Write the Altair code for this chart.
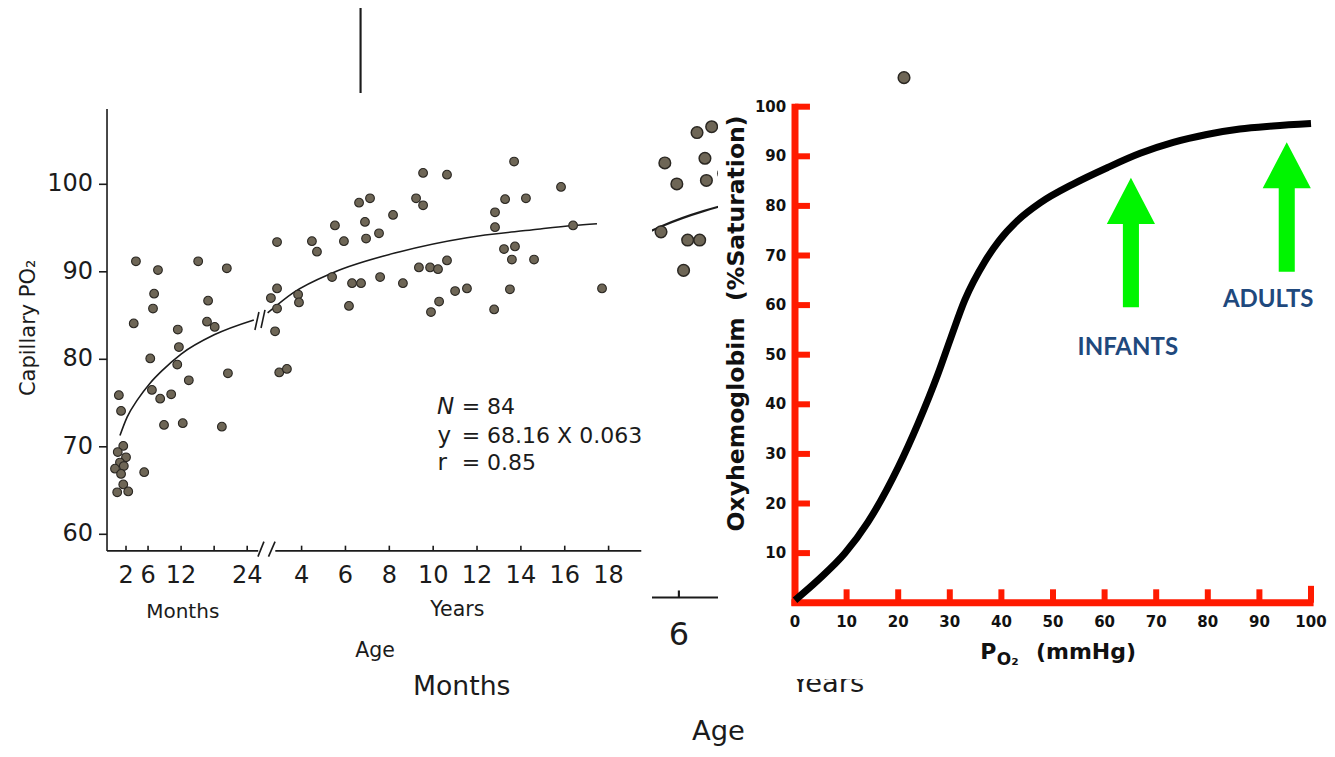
import altair as alt
import pandas as pd

# ------------------------------------------------------------------
# Left chart: capillary PO2 against age
# ------------------------------------------------------------------
infant_age_months = [3.8, 7.8, 7.1, 6.9, 3.4, 15.1, 20.3, 16.9, 16.7, 18.1, 11.4, 11.6, 6.4, 11.3,
                     13.4, 20.5, 0.7, 1.1, 6.7, 8.2, 10.2, 8.9, 12.3, 19.4, 5.3, 1.5, 0.5, 2.0, 0.9,
                     1.6, 0.0, 1.1, 1.5, 0.4, 2.4]
infant_po2 = [91.2, 90.2, 87.5, 85.8, 84.1, 91.2, 90.4, 86.7, 84.3, 83.7, 83.4, 81.4, 80.1, 79.4,
              77.6, 78.4, 75.9, 74.1, 76.5, 75.5, 76.0, 72.5, 72.7, 72.3, 67.1, 70.1, 69.4, 68.8, 68.2,
              67.8, 67.5, 66.9, 65.7, 64.8, 64.9]

child_age_years = [2.88, 2.88, 2.60, 2.88, 2.79, 2.98, 3.33, 4.47, 4.70, 3.84, 3.88, 9.54, 10.63,
                   13.69, 15.83, 6.62, 7.12, 9.22, 9.54, 13.28, 14.23, 12.82, 12.82, 16.38, 5.52, 6.89,
                   8.17, 5.93, 6.94, 7.53, 13.23, 13.73, 13.59, 14.60, 10.63, 9.35, 9.86, 10.22, 5.39,
                   7.58, 6.30, 6.71, 8.62, 11.00, 11.54, 13.50, 17.70, 6.16, 10.27, 9.90, 12.78]
child_po2 = [93.4, 88.1, 87.0, 85.8, 83.2, 78.5, 78.9, 93.5, 92.3, 87.4, 86.5, 101.3, 101.1, 102.6,
             99.7, 97.9, 98.4, 98.4, 97.6, 98.3, 98.4, 96.8, 95.1, 95.3, 95.3, 95.7, 96.5, 93.5, 93.8,
             94.4, 92.6, 92.9, 91.4, 91.4, 91.3, 90.5, 90.5, 90.3, 89.4, 89.4, 88.7, 88.7, 88.7, 87.8,
             88.1, 88.0, 88.1, 86.1, 86.6, 85.4, 85.7]

fit_months_age = [0.9, 2.2, 4.0, 6.4, 8.7, 12.0, 18.0, 25.2]
fit_months_po2 = [71.3, 73.4, 75.3, 77.3, 78.8, 80.6, 82.8, 84.5]
fit_years_age = [2.45, 3.61, 5.43, 8.49, 11.54, 14.55, 16.38, 17.47]
fit_years_po2 = [85.3, 87.6, 89.9, 92.3, 93.9, 94.8, 95.3, 95.5]

month_ticks = [2, 6, 12, 18, 24]
month_tick_labels = ["2", "6", "12", "", "24"]
year_ticks = [4, 6, 8, 10, 12, 14, 16, 18]
year_tick_labels = ["4", "6", "8", "10", "12", "14", "16", "18"]
po2_ticks = [60, 70, 80, 90, 100]
po2_tick_labels = ["60", "70", "80", "90", "100"]

stat_keys = ["N", "y", "r"]
stat_values = ["= 84", "= 68.16 X 0.063", "= 0.85"]

# ------------------------------------------------------------------
# Right chart: oxyhaemoglobin dissociation curve
# ------------------------------------------------------------------
po2_mmhg = [0, 4.5, 9.7, 14.1, 20.0, 23.8, 27.7, 30.2, 32.9, 36.8, 39.5, 43.2, 47.5, 53.9, 60.5,
            66.9, 73.3, 79.8, 86.2, 92.6, 100]
saturation = [0.5, 4.6, 10.0, 16.2, 27.3, 36.0, 46.1, 53.4, 61.0, 68.8, 72.9, 77.1, 80.6, 84.4, 87.7,
              90.6, 92.8, 94.4, 95.5, 96.1, 96.6]
sat_ticks = [10, 20, 30, 40, 50, 60, 70, 80, 90, 100]
sat_tick_labels = ["10", "20", "30", "40", "50", "60", "70", "80", "90", "100"]
mmhg_ticks = [10, 20, 30, 40, 50, 60, 70, 80, 90, 100]
mmhg_labels_at = [0, 10, 20, 30, 40, 50, 60, 70, 80, 90, 100]
mmhg_tick_labels = ["0", "10", "20", "30", "40", "50", "60", "70", "80", "90", "100"]
arrow_names = ["INFANTS", "ADULTS"]
arrow_po2 = [65.1, 95.3]
arrow_sat = [72.6, 79.8]

# ------------------------------------------------------------------
# Layout (page pixels) and styles
# ------------------------------------------------------------------
W, H, OFF = 1319, 741, 8
MONTH_PX = (0, 115.0, 24, 247.2)
YEAR_PX = (4, 301.6, 18, 608.6)
PO2_PX = (60, 534.3, 100, 184.3)
ZOOM, ZX, ZY = 1.335, 217.7, -138.0          # enlarged copy showing behind the panels
BIG_SHOWN_YEAR_LABELS = [6]                 # the only enlarged tick label left uncovered
SATX_PX = (0, 795.0, 100, 1311.0)
SATY_PX = (0, 602.7, 100, 106.7)

AX_M, AX_LO, AX_HI = -1.45, 58.1, 108.6     # left axes extents (data units)
BRK_M, BRK_Y, AX_Y_END = 26.0, 2.8, 19.49
TICK_P, TICK_M = 0.6, 1.45
LBL_P, LBL_M = 55.2, -4.0

INK = "#1b1b1b"
FILL = "#6e6656"
EDGE = "#2a2722"
RED = "#ff1a00"
GREEN = "#00f500"
BLUE = "#1f497d"
FONT_L = "DejaVu Sans"
FONT_R = "DejaVu Sans"
ARROW = "M0,-1L0.372,-0.287L0.124,-0.287L0.124,1L-0.124,1L-0.124,-0.287L-0.372,-0.287Z"


def dom_x(a):
    v_a, p_a, v_b, p_b = a
    ca, cb = p_a - OFF, p_b - OFF
    k = (cb - ca) / (v_b - v_a)
    d0 = v_a - ca / k
    return [d0, d0 + W / k]


def dom_y(a):
    v_a, p_a, v_b, p_b = a
    ca, cb = p_a - OFF, p_b - OFF
    k = (ca - cb) / (v_b - v_a)
    d0 = v_a - (H - ca) / k
    return [d0, d0 + H / k]


def big_x(a):
    return (a[0], ZOOM * a[1] + ZX, a[2], ZOOM * a[3] + ZX)


def big_y(a):
    return (a[0], ZOOM * a[1] + ZY, a[2], ZOOM * a[3] + ZY)


def sc(d):
    return alt.Scale(domain=d, nice=False, zero=False)


def ch(d):
    return alt.Chart(pd.DataFrame(d))


def enc(xd, yd, x2=False, y2=False, text=None):
    e = dict(x=alt.X("x:Q", scale=sc(xd), axis=None), y=alt.Y("y:Q", scale=sc(yd), axis=None))
    if x2:
        e["x2"] = alt.X2("x2:Q")
    if y2:
        e["y2"] = alt.Y2("y2:Q")
    if text:
        e["text"] = alt.Text(f"{text}:N")
    return e


def age_panel(ms, ys, ps, f, title_dy, age_dy, full):
    L = []
    lw = 1.6 * f
    # axis lines
    L.append(ch({"x": [AX_M], "y": [AX_LO], "y2": [AX_HI]}).mark_rule(color=INK, strokeWidth=lw)
             .encode(**enc(ms, ps, y2=True)))
    L.append(ch({"x": [AX_M], "x2": [BRK_M], "y": [AX_LO]}).mark_rule(color=INK, strokeWidth=lw)
             .encode(**enc(ms, ps, x2=True)))
    L.append(ch({"x": [BRK_Y], "x2": [AX_Y_END], "y": [AX_LO]}).mark_rule(color=INK, strokeWidth=lw)
             .encode(**enc(ys, ps, x2=True)))
    # axis / curve breaks
    L.append(ch({"x": [25.95, 25.4], "x2": [27.04, 26.13], "y": [57.45, 83.35], "y2": [59.16, 85.41]})
             .mark_rule(color=INK, strokeWidth=lw).encode(**enc(ms, ps, x2=True, y2=True)))
    L.append(ch({"x": [2.49, 2.15], "x2": [2.79, 2.33], "y": [57.45, 83.58], "y2": [59.16, 85.64]})
             .mark_rule(color=INK, strokeWidth=lw).encode(**enc(ys, ps, x2=True, y2=True)))
    # ticks
    L.append(ch({"x": month_ticks, "y": [AX_LO] * len(month_ticks), "y2": [AX_LO + TICK_P] * len(month_ticks)})
             .mark_rule(color=INK, strokeWidth=lw).encode(**enc(ms, ps, y2=True)))
    L.append(ch({"x": year_ticks, "y": [AX_LO] * len(year_ticks), "y2": [AX_LO + TICK_P] * len(year_ticks)})
             .mark_rule(color=INK, strokeWidth=lw).encode(**enc(ys, ps, y2=True)))
    L.append(ch({"y": po2_ticks, "x": [AX_M - TICK_M] * len(po2_ticks), "x2": [AX_M] * len(po2_ticks)})
             .mark_rule(color=INK, strokeWidth=lw).encode(**enc(ms, ps, x2=True)))
    # tick labels
    tl = dict(font=FONT_L, fontSize=24 * f, color=INK, baseline="middle")
    if full:
        yt, ytl = year_ticks, year_tick_labels
    else:
        keep = [i for i, v in enumerate(year_ticks) if v in BIG_SHOWN_YEAR_LABELS]
        yt, ytl = [year_ticks[i] for i in keep], [year_tick_labels[i] for i in keep]
    L.append(ch({"x": yt, "y": [LBL_P] * len(yt), "t": ytl})
             .mark_text(dy=4 * (f - 1) / (ZOOM - 1), **tl).encode(**enc(ys, ps, text="t")))
    if full:
        L.append(ch({"x": month_ticks, "y": [LBL_P] * len(month_ticks), "t": month_tick_labels})
                 .mark_text(**tl).encode(**enc(ms, ps, text="t")))
        L.append(ch({"x": [LBL_M] * len(po2_ticks), "y": po2_ticks, "t": po2_tick_labels})
                 .mark_text(align="right", **tl).encode(**enc(ms, ps, text="t")))
    # titles
    tt = dict(font=FONT_L, color=INK, baseline="middle")
    L.append(ch({"x": [12.3], "y": [51.1], "t": ["Months"]}).mark_text(fontSize=20 * f, dy=title_dy, **tt)
             .encode(**enc(ms, ps, text="t")))
    L.append(ch({"x": [11.1], "y": [51.35], "t": ["Years"]}).mark_text(fontSize=20.5 * f, dy=title_dy, **tt)
             .encode(**enc(ys, ps, text="t")))
    L.append(ch({"x": [7.35], "y": [46.7], "t": ["Age"]}).mark_text(fontSize=20.5 * f, dy=age_dy, **tt)
             .encode(**enc(ys, ps, text="t")))
    if full:
        L.append(ch({"x": [-15.6], "y": [83.6], "t": ["Capillary PO₂"]})
                 .mark_text(fontSize=21 * f, angle=270, **tt).encode(**enc(ms, ps, text="t")))
        # statistics
        L.append(ch({"x": [10.17], "y": [74.55], "t": [stat_keys[0]]})
                 .mark_text(font=FONT_L, fontSize=23 * f, fontStyle="italic", color=INK, align="left",
                            baseline="middle").encode(**enc(ys, ps, text="t")))
        L.append(ch({"x": [10.2, 10.2], "y": [71.23, 68.15], "t": stat_keys[1:]})
                 .mark_text(font=FONT_L, fontSize=23 * f, color=INK, align="left", baseline="middle")
                 .encode(**enc(ys, ps, text="t")))
        L.append(ch({"x": [11.3] * 3, "y": [74.55, 71.23, 68.15], "t": stat_values})
                 .mark_text(font=FONT_L, fontSize=22 * f, color=INK, align="left", baseline="middle")
                 .encode(**enc(ys, ps, text="t")))
    # fitted curve
    L.append(ch({"x": fit_months_age, "y": fit_months_po2})
             .mark_line(color=INK, strokeWidth=lw, interpolate="monotone").encode(**enc(ms, ps)))
    L.append(ch({"x": fit_years_age, "y": fit_years_po2})
             .mark_line(color=INK, strokeWidth=lw, interpolate="monotone").encode(**enc(ys, ps)))
    # points
    pt = dict(size=76 * f * f, color=FILL, stroke=EDGE, strokeWidth=1.1 * f, opacity=1)
    L.append(ch({"x": infant_age_months, "y": infant_po2}).mark_circle(**pt).encode(**enc(ms, ps)))
    L.append(ch({"x": child_age_years, "y": child_po2}).mark_circle(**pt).encode(**enc(ys, ps)))
    return L


def right_panel():
    xs, ys = dom_x(SATX_PX), dom_y(SATY_PX)
    L = []
    n = len(sat_ticks)
    L.append(ch({"y": sat_ticks, "x": [0] * n, "x2": [2.9] * n}).mark_rule(color=RED, strokeWidth=6)
             .encode(**enc(xs, ys, x2=True)))
    m = len(mmhg_ticks)
    L.append(ch({"x": mmhg_ticks, "y": [0] * m, "y2": [2.7] * (m - 1) + [3.4]})
             .mark_rule(color=RED, strokeWidth=6).encode(**enc(xs, ys, y2=True)))
    L.append(ch({"x": [0], "y": [-0.6], "y2": [100.6]}).mark_rule(color=RED, strokeWidth=7)
             .encode(**enc(xs, ys, y2=True)))
    L.append(ch({"x": [-0.7], "x2": [100.5], "y": [0]}).mark_rule(color=RED, strokeWidth=7)
             .encode(**enc(xs, ys, x2=True)))
    tl = dict(font=FONT_R, fontSize=15, fontWeight="bold", color="#111", baseline="middle")
    L.append(ch({"x": [-1.7] * n, "y": sat_ticks, "t": sat_tick_labels}).mark_text(align="right", **tl)
             .encode(**enc(xs, ys, text="t")))
    L.append(ch({"x": mmhg_labels_at, "y": [-3.9] * len(mmhg_labels_at), "t": mmhg_tick_labels})
             .mark_text(**tl).encode(**enc(xs, ys, text="t")))
    L.append(ch({"x": [-11.24], "y": [56.3], "t": ["Oxyhemoglobim\u00a0 (%Saturation)"]})
             .mark_text(font=FONT_R, fontSize=23.5, fontWeight="bold", color="#111", angle=270, baseline="middle")
             .encode(**enc(xs, ys, text="t")))
    tb = dict(font=FONT_R, fontWeight="bold", color="#111", baseline="middle", align="left")
    L.append(ch({"x": [35.9], "y": [-9.9], "t": ["P"]}).mark_text(fontSize=22, **tb).encode(**enc(xs, ys, text="t")))
    L.append(ch({"x": [39.1], "y": [-11.6], "t": ["O₂"]}).mark_text(fontSize=17, **tb).encode(**enc(xs, ys, text="t")))
    L.append(ch({"x": [46.7], "y": [-9.9], "t": ["(mmHg)"]}).mark_text(fontSize=22, **tb).encode(**enc(xs, ys, text="t")))
    L.append(ch({"x": po2_mmhg, "y": saturation})
             .mark_line(color="#000", strokeWidth=7, interpolate="monotone").encode(**enc(xs, ys)))
    L.append(ch({"x": arrow_po2, "y": arrow_sat})
             .mark_point(shape=ARROW, size=129.5 ** 2, filled=True, color=GREEN, opacity=1, strokeWidth=0)
             .encode(**enc(xs, ys)))
    L.append(ch({"x": [64.5, 91.7], "y": [51.3, 61.0], "t": arrow_names})
             .mark_text(font="Lato", fontSize=24, fontWeight="bold", color=BLUE, baseline="middle")
             .encode(**enc(xs, ys, text="t")))
    return L


# the panels' white cards, which hide most of the enlarged copy (page pixels)
cards_x = [0, 718]
cards_x2 = [652, 1335]
cards_y = [93, 86]
cards_y2 = [670, 679]
canvas_x = [OFF, OFF + W]
canvas_y = [OFF + H, OFF]
cards = ch({"x": cards_x, "x2": cards_x2, "y": cards_y, "y2": cards_y2}).mark_rect(color="white", opacity=1) \
    .encode(**enc(canvas_x, canvas_y, x2=True, y2=True))

big = age_panel(dom_x(big_x(MONTH_PX)), dom_x(big_x(YEAR_PX)), dom_y(big_y(PO2_PX)), ZOOM, 8, 1, False)
small = age_panel(dom_x(MONTH_PX), dom_x(YEAR_PX), dom_y(PO2_PX), 1.0, 0, 0, True)

chart = alt.layer(*big, cards, *small, *right_panel()).resolve_scale(
    x="independent", y="independent"
).properties(
    width=W, height=H, autosize=alt.AutoSizeParams(type="none"), padding=0, background="white"
).configure_view(stroke=None)

chart.save("out.html", embed_options={"renderer": "svg", "actions": False})
